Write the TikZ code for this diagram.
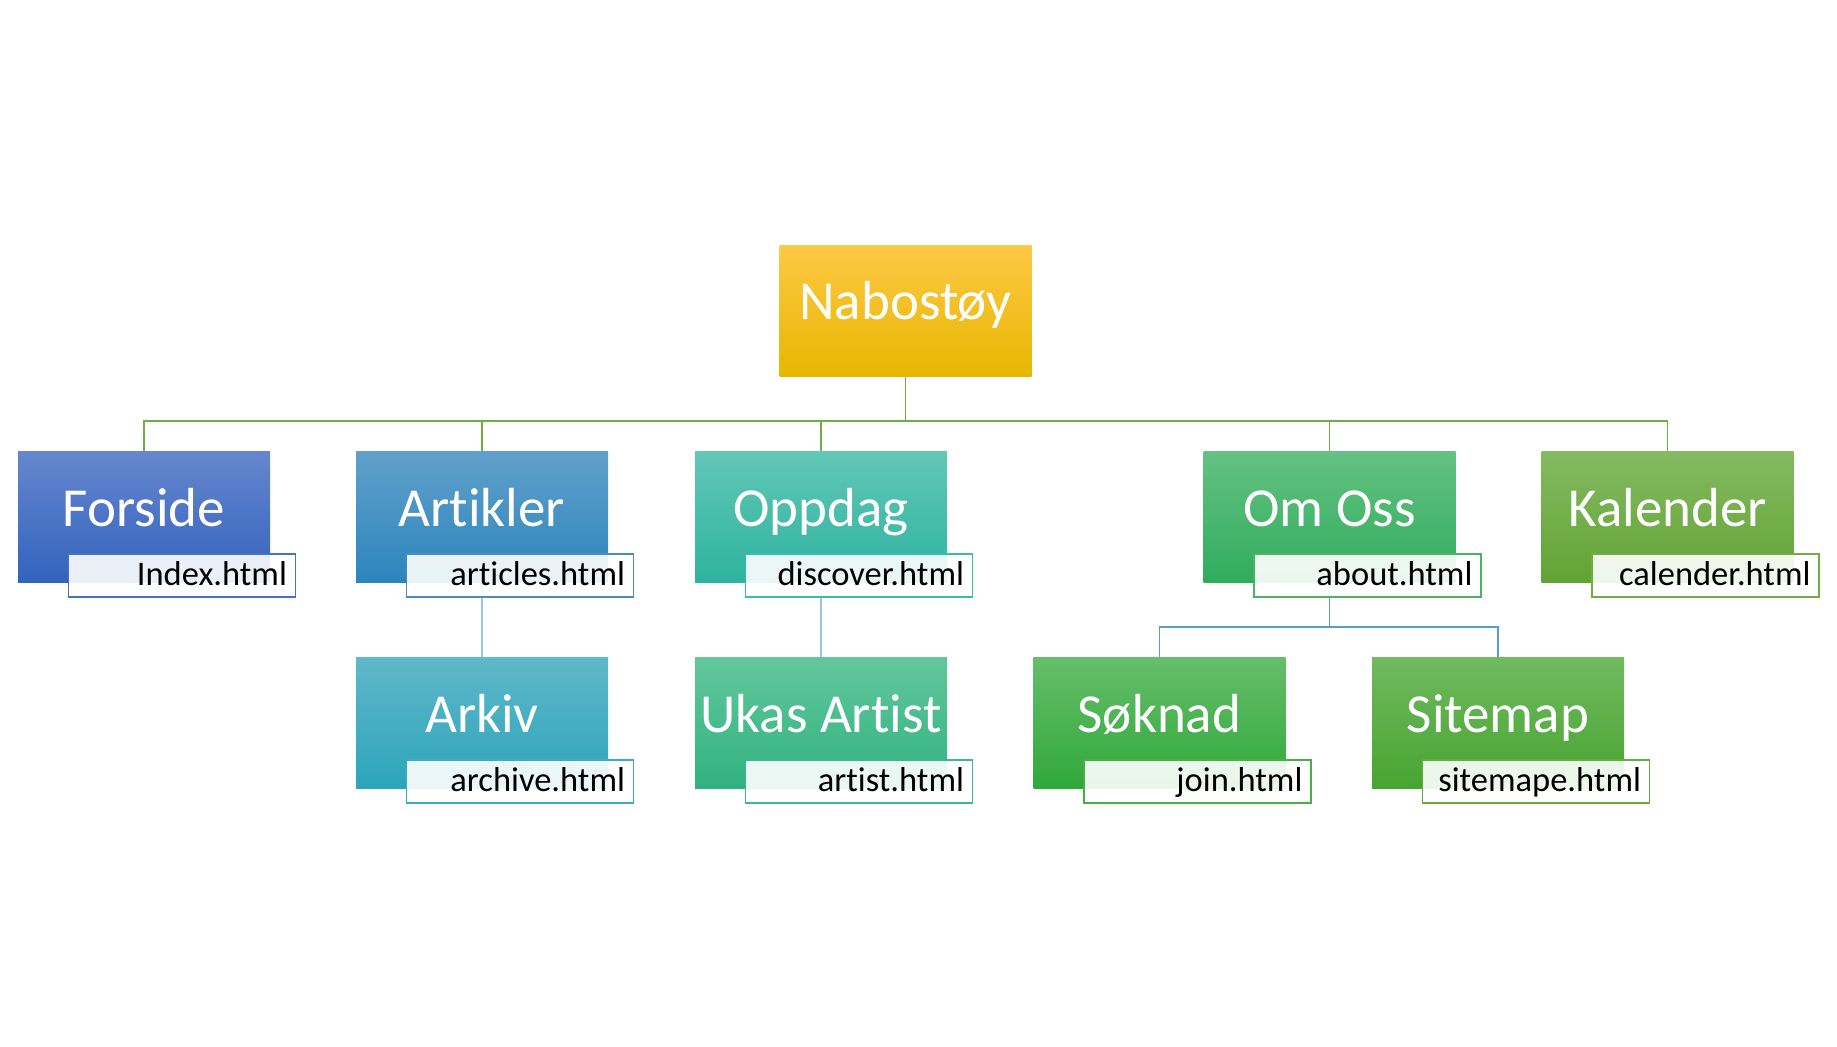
\documentclass[tikz,border=0pt]{standalone}
\usepackage{fontspec}
\setmainfont{Carlito}[Ligatures=NoCommon]
\pgfdeclarelayer{bg}
\pgfsetlayers{bg,main}
\definecolor{lgreen}{RGB}{112,173,71}
\definecolor{lblue}{RGB}{157,195,230}
\definecolor{mblue}{RGB}{91,155,213}
\definecolor{naboT}{RGB}{255,200,70}
\definecolor{naboM}{RGB}{255,195,0}
\definecolor{naboB}{RGB}{230,183,0}
\definecolor{forT}{RGB}{102,134,206}
\definecolor{forB}{RGB}{50,99,189}
\definecolor{forL}{RGB}{68,114,196}
\definecolor{artT}{RGB}{96,160,202}
\definecolor{artB}{RGB}{45,133,189}
\definecolor{artL}{RGB}{70,140,200}
\definecolor{oppT}{RGB}{98,199,182}
\definecolor{oppB}{RGB}{46,179,160}
\definecolor{oppL}{RGB}{55,190,170}
\definecolor{omT}{RGB}{100,194,130}
\definecolor{omB}{RGB}{48,172,92}
\definecolor{omL}{RGB}{75,180,100}
\definecolor{kalT}{RGB}{132,186,98}
\definecolor{kalB}{RGB}{98,163,52}
\definecolor{kalL}{RGB}{112,173,71}
\definecolor{arkT}{RGB}{96,184,202}
\definecolor{arkB}{RGB}{44,164,186}
\definecolor{arkL}{RGB}{60,172,192}
\definecolor{ukaT}{RGB}{98,199,156}
\definecolor{ukaB}{RGB}{48,178,128}
\definecolor{ukaL}{RGB}{60,185,140}
\definecolor{sokT}{RGB}{102,190,106}
\definecolor{sokB}{RGB}{48,168,58}
\definecolor{sokL}{RGB}{70,175,70}
\definecolor{sitT}{RGB}{112,186,96}
\definecolor{sitB}{RGB}{72,164,48}
\definecolor{sitL}{RGB}{100,175,60}
\tikzset{
  mainbox/.style={minimum width=252pt, minimum height=131pt, inner sep=0pt, draw=none, anchor=north},
  maintext/.style={text=white, font=\fontsize{55}{60}\selectfont, anchor=base, inner sep=0pt},
  lblbox/.style={minimum width=227pt, minimum height=43pt, inner sep=0pt, fill=white, fill opacity=0.9, line width=1.3pt, anchor=north east},
  lbltext/.style={text=black, font=\fontsize{34.5}{40}\selectfont, anchor=base east, inner sep=0pt},
  topline/.style={draw=lgreen, line width=1.3pt},
  subline/.style={draw=lblue, line width=1.3pt},
  omline/.style={draw=mblue, line width=1.3pt}
}
\newcommand\orgnode[8]{%
  \node[mainbox, top color=#5, bottom color=#6] (#1) at (#2,#3) {};
  \node[maintext] (#1-t) at ([yshift=-75pt]#1.north) {#4};
  \node[lblbox, draw=#7] (#1-l) at ([xshift=26pt,yshift=29pt]#1.south east) {};
  \node[lbltext] (#1-lt) at ([xshift=-9pt,yshift=-32pt]#1-l.north east) {#8};
}
\begin{document}
\begin{tikzpicture}[x=1pt,y=-1pt]
\useasboundingbox (0,0) rectangle (1837,1047);
% root
\node[mainbox, top color=naboT, middle color=naboM, bottom color=naboB] (nabo) at (905.5,245) {};
\node[maintext] (nabo-t) at ([yshift=-74pt]nabo.north) {Nabostøy};
% level 1
\orgnode{forside}{144}{451}{Forside}{forT}{forB}{forL}{Index.html}
\orgnode{artikler}{482}{451}{Artikler}{artT}{artB}{artL}{articles.html}
\orgnode{oppdag}{821}{451}{Oppdag}{oppT}{oppB}{oppL}{discover.html}
\orgnode{omoss}{1329.5}{451}{Om Oss}{omT}{omB}{omL}{about.html}
\orgnode{kalender}{1667.5}{451}{Kalender}{kalT}{kalB}{kalL}{calender.html}
% level 2
\orgnode{arkiv}{482}{657}{Arkiv}{arkT}{arkB}{arkL}{archive.html}
\orgnode{ukas}{821}{657}{Ukas Artist}{ukaT}{ukaB}{ukaL}{artist.html}
\orgnode{soknad}{1159.5}{657}{Søknad}{sokT}{sokB}{sokL}{join.html}
\orgnode{sitemap}{1498}{657}{Sitemap}{sitT}{sitB}{sitL}{sitemape.html}
% connectors
\begin{pgfonlayer}{bg}
\coordinate (hub) at (905.5,421);
\draw[topline] (nabo.south) -- (hub);
\draw[topline] (hub) -| (forside.north);
\draw[topline] (hub) -| (artikler.north);
\draw[topline] (hub) -| (oppdag.north);
\draw[topline] (hub) -| (omoss.north);
\draw[topline] (hub) -| (kalender.north);
\draw[subline] (artikler.south) -- (arkiv.north);
\draw[subline] (oppdag.south) -- (ukas.north);
\coordinate (omhub) at (1329.5,627);
\draw[omline] (omoss.south) -- (omhub);
\draw[omline] (omhub) -| (soknad.north);
\draw[omline] (omhub) -| (sitemap.north);
\end{pgfonlayer}
\end{tikzpicture}
\end{document}
